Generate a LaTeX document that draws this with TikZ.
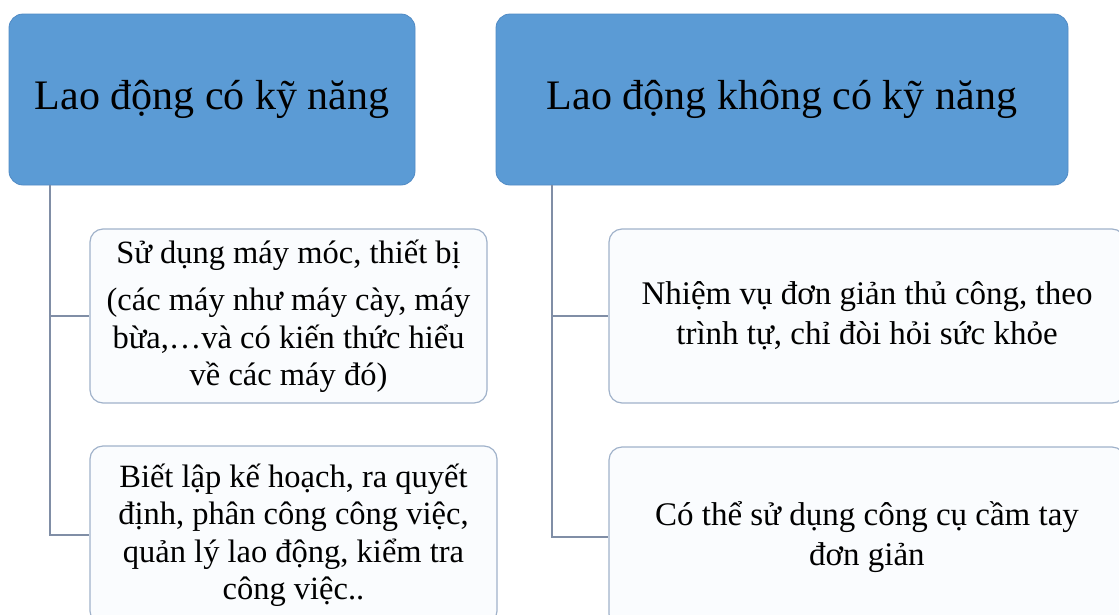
\documentclass[tikz,border=0pt]{standalone}
\usepackage{fontspec}
\setmainfont{Liberation Serif}
\definecolor{hdrblue}{RGB}{91,155,213}
\definecolor{hdredge}{RGB}{80,138,196}
\definecolor{boxedge}{RGB}{160,178,202}
\definecolor{boxfill}{RGB}{250,252,254}
\definecolor{linegray}{RGB}{128,142,166}
\begin{document}
\begin{tikzpicture}[x=1pt,y=-1pt,
    header/.style={rectangle, rounded corners=14pt, fill=hdrblue, draw=hdredge, line width=0.8pt,
      minimum width=#1, minimum height=171pt, inner sep=0pt,
      font=\fontsize{42}{48}\selectfont},
    leftbox/.style={rectangle, rounded corners=13pt, fill=boxfill, draw=boxedge, line width=1.2pt,
      minimum height=174pt, inner sep=0pt, align=center,
      font=\fontsize{32.5}{37.5}\selectfont},
    rightbox/.style={leftbox, font=\fontsize{33}{40}\selectfont},
    conn/.style={draw=linegray, line width=1.3pt}]
\useasboundingbox (0,0) rectangle (1119,614);
\clip (0,0) rectangle (1119,614);
            \node [header=406pt] (hdrL) at (212,99.5) {Lao động có kỹ năng};
            \node [header=572pt] (hdrR) at (782,99.5) {Lao động không có kỹ năng};
            \node [leftbox, minimum width=397pt] (skL1) at (288.5,316)
              {Sử dụng máy móc, thiết bị\\[10pt](các máy như máy cày, máy\\bừa,…và có kiến thức hiểu\\về các máy đó)};
            \node [leftbox, minimum width=407pt, minimum height=178pt] (skL2) at (293.5,535)
              {Biết lập kế hoạch, ra quyết\\định, phân công công việc,\\quản lý lao động, kiểm tra\\công việc..};
            \node [rightbox, minimum width=516pt] (skR1) at (867,316)
              {Nhiệm vụ đơn giản thủ công, theo\\trình tự, chỉ đòi hỏi sức khỏe};
            \node [rightbox, minimum width=516pt, minimum height=180pt] (skR2) at (867,537)
              {Có thể sử dụng công cụ cầm tay\\đơn giản};
            \coordinate (trunkL) at (50,185);
            \coordinate (trunkR) at (552,185);
            \path [conn] (trunkL) |- (skL1.west);
            \path [conn] (trunkL) |- (skL2.west);
            \path [conn] (trunkR) |- (skR1.west);
            \path [conn] (trunkR) |- (skR2.west);
        \end{tikzpicture}
\end{document}
